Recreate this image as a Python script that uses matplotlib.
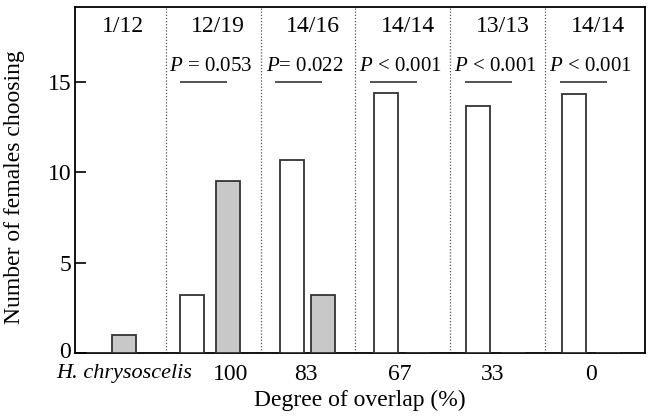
import matplotlib.pyplot as plt
from matplotlib.transforms import ScaledTranslation

plt.rcParams['font.family'] = 'Liberation Serif'
plt.rcParams['mathtext.fontset'] = 'custom'
plt.rcParams['mathtext.it'] = 'Liberation Serif:italic'
plt.rcParams['mathtext.rm'] = 'Liberation Serif'

# data
groups = ['H. chrysoscelis', '100', '83', '67', '33', '0']
white_counts = [0, 3.2, 10.65, 14.35, 13.65, 14.3]
grey_counts = [1.0, 9.5, 3.2, 0, 0, 0]
ratios = ['1/12', '12/19', '14/16', '14/14', '13/13', '14/14']
p_labels = ['', '$P$ = 0.053', '$P$= 0.022', '$P$ < 0.001', '$P$ < 0.001', '$P$ < 0.001']

# layout (offsets inside each group)
white_off = [0.3, 0.28, 0.33, 0.32, 0.29, 0.30]
grey_off = [0.56, 0.66, 0.66, 0.66, 0.66, 0.66]
tick_pos = [0.56, 1.68, 2.48, 3.47, 4.44, 5.48]
bar_w = 0.255

fig = plt.figure(figsize=(6.49, 4.16), dpi=100)
ax = fig.add_axes([0.1163, 0.1507, 0.8775, 0.8318])

x_white = [i + o for i, o in enumerate(white_off)]
x_grey = [i + o for i, o in enumerate(grey_off)]
ax.bar(x_white, white_counts, width=bar_w, color='white', edgecolor='#333333', linewidth=1.3, zorder=3)
ax.bar(x_grey, grey_counts, width=bar_w, color='#c8c8c8', edgecolor='#333333', linewidth=1.3, zorder=3)

# dotted dividers between groups
for i in range(1, len(groups)):
    ax.axvline(i, color='#555555', linestyle=(0, (1, 1.5)), linewidth=0.9, zorder=1)

for i, (r, p) in enumerate(zip(ratios, p_labels)):
    ax.text(i + 0.55, 18.05, r, ha='center', va='center', fontsize=17)
    if p:
        ax.text(i + 0.47, 15.85, p, ha='center', va='center', fontsize=15)
        ax.hlines(15.0, i + 0.15, i + 0.65, color='#444444', linewidth=1.3)

ax.set_xlim(0.05, 6.05)
ax.set_ylim(0, 19.1)
ax.set_yticks([0, 5, 10, 15])
ax.set_xticks(tick_pos)
ax.set_xticklabels(groups)
ax.tick_params(axis='x', length=0, pad=7.5, labelsize=17)
ax.tick_params(axis='y', direction='in', length=8, width=1.2, pad=3, labelsize=17)
first = ax.get_xticklabels()[0]
first.set_style('italic')
first.set_fontsize(16)
# nudge the "0" label up a bit so it clears the species name
zero = ax.get_yticklabels()[0]
zero.set_transform(zero.get_transform() + ScaledTranslation(0, 0.035, fig.dpi_scale_trans))
for s in ax.spines.values():
    s.set_linewidth(1.3)

ax.set_xlabel('Degree of overlap (%)', fontsize=17, labelpad=4)
ax.set_ylabel('Number of females choosing', fontsize=17, labelpad=13)
ax.yaxis.set_label_coords(-0.088, 0.48)

fig.savefig('out.png', dpi=100)
